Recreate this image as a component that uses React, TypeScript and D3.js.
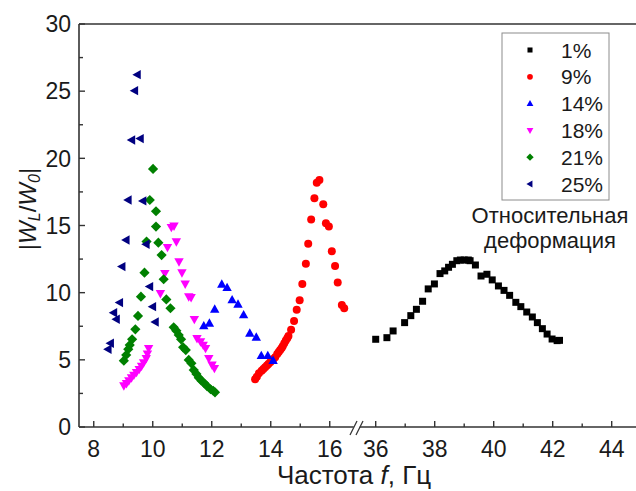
import React from 'react';
import * as d3 from 'd3';

// Resonance amplitude |W_L/W_0| versus excitation frequency for several relative strains
const strainLabels = ['1%', '9%', '14%', '18%', '21%', '25%'];
const seriesColors = ['#000000', '#ff0000', '#0000ff', '#ff00ff', '#008000', '#000080'];
const seriesShapes = ['square', 'circle', 'triUp', 'triDown', 'diamond', 'triLeft'];

const yTickValues = [0, 5, 10, 15, 20, 25, 30];
const xTicksLow = [8, 10, 12, 14, 16];
const xTicksHigh = [36, 38, 40, 42, 44];
const xMinorLow = [9, 11, 13, 15];
const xMinorHigh = [37, 39, 41, 43];

// 1% — plotted on the high-frequency segment of the axis
const strain1: [number, number][] = [
  [36.0, 6.53], [36.38, 6.65], [36.59, 7.15], [36.98, 7.77], [37.19, 8.29], [37.38, 8.76],
  [37.59, 9.36], [37.78, 10.28], [37.99, 10.65], [38.18, 11.42], [38.34, 11.62], [38.47, 11.89],
  [38.6, 12.11], [38.75, 12.38], [38.87, 12.43], [39.0, 12.43], [39.14, 12.43], [39.2, 12.38],
  [39.38, 12.06], [39.57, 11.24], [39.77, 11.37], [39.95, 10.95], [40.16, 10.5], [40.35, 10.17],
  [40.54, 9.8], [40.75, 9.28], [40.92, 8.96], [41.12, 8.56], [41.31, 8.19], [41.48, 7.77],
  [41.65, 7.32], [41.81, 6.92], [41.98, 6.55], [42.15, 6.43], [42.23, 6.45],
];

const strain9: [number, number][] = [
  [13.47, 3.55], [13.53, 3.75], [13.6, 4.0], [13.69, 4.19], [13.75, 4.32], [13.81, 4.45],
  [13.87, 4.57], [13.92, 4.69], [13.98, 4.82], [14.03, 4.94], [14.09, 5.06], [14.15, 5.19],
  [14.22, 5.43], [14.27, 5.58], [14.32, 5.73], [14.37, 5.88], [14.41, 6.03], [14.46, 6.23],
  [14.51, 6.43], [14.56, 6.6], [14.6, 6.78], [14.69, 7.24], [14.79, 7.9], [14.88, 8.73],
  [14.98, 9.43], [15.07, 10.65], [15.19, 12.16], [15.27, 13.65], [15.37, 15.44], [15.48, 17.03],
  [15.56, 18.19], [15.65, 18.39], [15.78, 16.58], [15.87, 15.17], [15.97, 14.92], [16.07, 13.08],
  [16.18, 11.99], [16.27, 10.75], [16.41, 9.08], [16.49, 8.84],
];

const strain14: [number, number][] = [
  [11.73, 7.52], [11.92, 7.72], [12.1, 8.76], [12.34, 10.62], [12.52, 10.37], [12.69, 9.46],
  [12.89, 9.13], [13.08, 8.34], [13.29, 6.97], [13.51, 6.68], [13.68, 5.31], [13.9, 5.31],
  [14.08, 4.94],
];

const strain18: [number, number][] = [
  [9.02, 3.08], [9.11, 3.25], [9.19, 3.45], [9.28, 3.67], [9.36, 3.87], [9.45, 4.07],
  [9.54, 4.3], [9.62, 4.54], [9.69, 4.79], [9.78, 5.11], [9.82, 5.45], [9.86, 5.86],
  [10.26, 9.95], [10.41, 11.44], [10.5, 13.38], [10.63, 14.87], [10.72, 14.97], [10.8, 13.8],
  [10.89, 12.31], [10.99, 11.49], [11.1, 10.65], [11.22, 9.7], [11.3, 9.65], [11.41, 8.02],
  [11.5, 6.6], [11.62, 6.35], [11.71, 6.1], [11.79, 5.86], [11.9, 5.11], [12.01, 4.62],
  [12.09, 4.37],
];

const strain21: [number, number][] = [
  [9.02, 4.94], [9.1, 5.36], [9.17, 5.79], [9.22, 6.1], [9.3, 6.53], [9.41, 7.27],
  [9.5, 8.27], [9.6, 9.7], [9.72, 11.49], [9.79, 13.8], [9.9, 16.9], [10.01, 19.21],
  [10.11, 16.06], [10.11, 14.92], [10.19, 13.72], [10.3, 12.8], [10.37, 11.0], [10.46, 9.5],
  [10.6, 8.84], [10.71, 7.42], [10.8, 7.17], [10.88, 6.85], [10.96, 6.53], [11.03, 5.93],
  [11.12, 5.73], [11.22, 4.99], [11.31, 4.74], [11.39, 4.24], [11.48, 3.95], [11.56, 3.67],
  [11.65, 3.45], [11.75, 3.25], [11.84, 3.05], [11.96, 2.81], [12.05, 2.7], [12.11, 2.58],
];

const strain25: [number, number][] = [
  [8.49, 5.79], [8.57, 6.23], [8.68, 8.51], [8.77, 8.02], [8.88, 9.26], [8.96, 11.94],
  [9.1, 13.92], [9.17, 16.9], [9.29, 21.37], [9.39, 25.04], [9.48, 26.23], [9.58, 21.47],
  [9.67, 16.83], [9.78, 13.6], [9.9, 10.45], [10.0, 8.96], [10.09, 7.82],
];

const seriesData = [strain1, strain9, strain14, strain18, strain21, strain25];

const W = 636;
const H = 491;
const FONT = "'Liberation Sans', Arial, sans-serif";

const axisLeft = 79;
const axisBottom = 427;
const axisTop = 24;

// Broken frequency axis: low band and high band share the same px-per-Hz
const xLow = d3.scaleLinear().domain([7.5, 16.9]).range([axisLeft, 356.3]);
const xHigh = d3.scaleLinear().domain([35.4, 45.2]).range([358, 647.1]);
const xPos = (f: number) => (f < 25 ? xLow(f) : xHigh(f));
const y = d3.scaleLinear().domain([0, 30]).range([axisBottom, axisTop]);

function markerPath(shape: string, k = 1): string {
  const a = 4.7 * k;
  const h = 8.4 * k;
  switch (shape) {
    case 'square': {
      const s = 3.5 * k;
      return `M${-s},${-s}H${s}V${s}H${-s}Z`;
    }
    case 'circle': {
      const r = 4 * k;
      return `M${r},0A${r},${r},0,1,1,${-r},0A${r},${r},0,1,1,${r},0Z`;
    }
    case 'triUp':
      return `M0,${-h * 0.6}L${a},${h * 0.4}L${-a},${h * 0.4}Z`;
    case 'triDown':
      return `M0,${h * 0.6}L${a},${-h * 0.4}L${-a},${-h * 0.4}Z`;
    case 'triLeft':
      return `M${-h * 0.6},0L${h * 0.4},${-a}L${h * 0.4},${a}Z`;
    case 'diamond': {
      const r = 5.1 * k;
      return `M0,${-r}L${r},0L0,${r}L${-r},0Z`;
    }
    default:
      return '';
  }
}

export default function App() {
  const yMinor = d3.range(2.5, 30, 5);
  const legendX = 502;
  const legendY = 33;
  const legendRowH = 26.8;

  return (
    <div style={{ position: 'fixed', left: 0, top: 0, width: W, height: H, background: '#fff' }}>
      <svg width={W} height={H} style={{ display: 'block', fontFamily: FONT }}>
        <rect x={0} y={0} width={W} height={H} fill="#fff" />

        {/* frame: top and left lines, bottom axis */}
        <line x1={axisLeft} x2={W} y1={axisTop} y2={axisTop} stroke="#333" strokeWidth={1.6} />
        <line x1={axisLeft} x2={axisLeft} y1={axisTop} y2={axisBottom} stroke="#333" strokeWidth={1.6} />
        <line x1={axisLeft} x2={W} y1={axisBottom} y2={axisBottom} stroke="#333" strokeWidth={1.6} />

        {/* y ticks */}
        {yTickValues.map((v) => (
          <g key={`yt${v}`}>
            <line x1={axisLeft} x2={axisLeft + 6} y1={y(v)} y2={y(v)} stroke="#333" strokeWidth={1.4} />
            <text x={71} y={y(v) + 8.3} textAnchor="end" fontSize={23} fill="#1a1a1a">{v}</text>
          </g>
        ))}
        {yMinor.map((v) => (
          <line key={`ym${v}`} x1={axisLeft} x2={axisLeft + 4} y1={y(v)} y2={y(v)} stroke="#333" strokeWidth={1.4} />
        ))}

        {/* x ticks on both axis segments */}
        {xTicksLow.map((v) => (
          <g key={`xl${v}`}>
            <line x1={xLow(v)} x2={xLow(v)} y1={axisBottom} y2={axisBottom - 6} stroke="#333" strokeWidth={1.4} />
            <text x={xLow(v)} y={456.5} textAnchor="middle" fontSize={23} fill="#1a1a1a">{v}</text>
          </g>
        ))}
        {xTicksHigh.map((v) => (
          <g key={`xh${v}`}>
            <line x1={xHigh(v)} x2={xHigh(v)} y1={axisBottom} y2={axisBottom - 6} stroke="#333" strokeWidth={1.4} />
            <text x={xHigh(v)} y={456.5} textAnchor="middle" fontSize={23} fill="#1a1a1a">{v}</text>
          </g>
        ))}
        {xMinorLow.map((v) => (
          <line key={`xml${v}`} x1={xLow(v)} x2={xLow(v)} y1={axisBottom} y2={axisBottom - 3.5} stroke="#333" strokeWidth={1.4} />
        ))}
        {xMinorHigh.map((v) => (
          <line key={`xmh${v}`} x1={xHigh(v)} x2={xHigh(v)} y1={axisBottom} y2={axisBottom - 3.5} stroke="#333" strokeWidth={1.4} />
        ))}

        {/* axis break marker */}
        <polygon points={`352,${axisBottom + 3} 355,${axisBottom - 3} 361,${axisBottom - 3} 358,${axisBottom + 3}`} fill="#fff" />
        <line x1={350} y1={435} x2={357} y2={421} stroke="#333" strokeWidth={1.3} />
        <line x1={356} y1={435} x2={363} y2={421} stroke="#333" strokeWidth={1.3} />

        {/* data markers */}
        {seriesData.map((pts, si) => (
          <g key={`s${si}`} fill={seriesColors[si]}>
            {pts.map(([f, v], i) => (
              <path key={i} d={markerPath(seriesShapes[si])} transform={`translate(${xPos(f)},${y(v)})`} />
            ))}
          </g>
        ))}

        {/* legend */}
        <rect x={legendX} y={legendY} width={107} height={167} fill="#fff" stroke="#8c8c8c" strokeWidth={1} />
        {strainLabels.map((lab, i) => {
          const cy = legendY + 17 + i * legendRowH;
          return (
            <g key={`lg${i}`}>
              <path d={markerPath(seriesShapes[i], 0.72)} transform={`translate(530,${cy})`} fill={seriesColors[i]} />
              <text x={561} y={cy + 7.5} fontSize={21} fill="#1a1a1a">{lab}</text>
            </g>
          );
        })}

        {/* annotation */}
        <text x={550} y={223} textAnchor="middle" fontSize={22} fill="#1a1a1a">Относительная</text>
        <text x={550} y={248} textAnchor="middle" fontSize={22} fill="#1a1a1a">деформация</text>

        {/* axis titles */}
        <text x={354} y={484} textAnchor="middle" fontSize={26} fill="#1a1a1a">
          Частота <tspan fontStyle="italic">f</tspan>, Гц
        </text>
        <text transform="translate(36,209) rotate(-90)" textAnchor="middle" fontSize={24} fill="#1a1a1a">
          |<tspan fontStyle="italic">W</tspan>
          <tspan fontStyle="italic" fontSize={16} dy={4}>L</tspan>
          <tspan dy={-4}>/</tspan>
          <tspan fontStyle="italic">W</tspan>
          <tspan fontStyle="italic" fontSize={16} dy={4}>0</tspan>
          <tspan dy={-4}>|</tspan>
        </text>
      </svg>
    </div>
  );
}
